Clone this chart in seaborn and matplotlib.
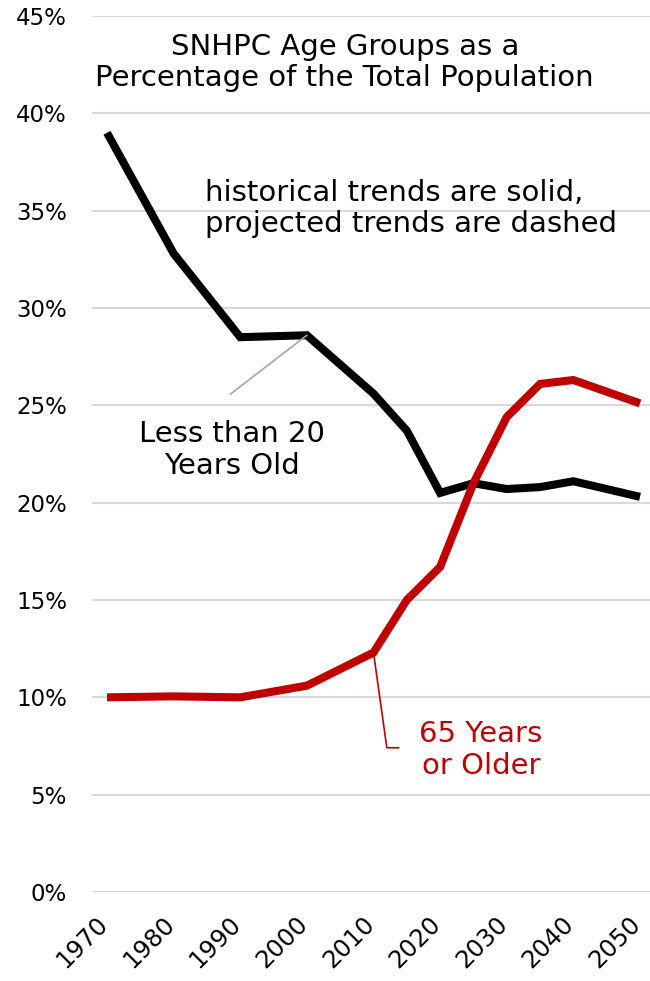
import matplotlib
matplotlib.use("Agg")
import matplotlib.pyplot as plt
import matplotlib.transforms as mtransforms
import seaborn as sns
import pandas as pd
from matplotlib.ticker import FuncFormatter

years = [1970, 1980, 1990, 2000, 2010, 2015, 2020, 2025, 2030, 2035, 2040, 2045, 2050]
under20 = [39.0, 32.8, 28.5, 28.6, 25.6, 23.7, 20.5, 21.0, 20.7, 20.8, 21.1, 20.7, 20.3]
over65 = [10.0, 10.05, 10.0, 10.6, 12.3, 15.0, 16.7, 21.0, 24.4, 26.1, 26.3, 25.7, 25.1]
series_names = ["Less than 20 Years Old", "65 Years or Older"]
series_colors = ["#000000", "#C00000"]
y_ticks = [0, 5, 10, 15, 20, 25, 30, 35, 40, 45]
x_ticks = [1970, 1980, 1990, 2000, 2010, 2020, 2030, 2040, 2050]

df = pd.DataFrame({
    "year": years * 2,
    "pct": under20 + over65,
    "group": [series_names[0]] * len(years) + [series_names[1]] * len(years),
})

sns.set_theme(style="white")
plt.rcParams["font.family"] = ["DejaVu Sans"]
plt.rcParams["text.color"] = "black"

W, H = 650, 981
fig = plt.figure(figsize=(W / 100, H / 100), dpi=100)
ax = fig.add_axes([92 / W, (H - 892) / H, 558 / W, 876 / H])

for y in y_ticks:
    ax.axhline(y, color="#d9d9d9", lw=1.5, zorder=0)

sns.lineplot(data=df, x="year", y="pct", hue="group", palette=series_colors,
             hue_order=series_names, linewidth=5.8, ax=ax, legend=False,
             estimator=None, sort=False)
for ln in ax.lines:
    ln.set_solid_joinstyle("miter")
    ln.set_solid_capstyle("butt")

ax.set_xlim(1967.75, 2051.5)
ax.set_ylim(0, 45)
ax.set_yticks(y_ticks)
ax.yaxis.set_major_formatter(FuncFormatter(lambda v, p: f"{int(v)}%"))
ax.set_xticks(x_ticks)
ax.set_xticklabels([str(x) for x in x_ticks], rotation=45, ha="right",
                   va="center", rotation_mode="anchor")
ax.tick_params(axis="y", labelsize=16.5, length=0, colors="black", pad=18)
ax.tick_params(axis="x", labelsize=17.5, length=0, colors="black", pad=0)
offset = mtransforms.ScaledTranslation(-3 / 100, -28 / 100, fig.dpi_scale_trans)
for lab in ax.get_xticklabels():
    lab.set_transform(lab.get_transform() + offset)
ax.set_xlabel("")
ax.set_ylabel("")
for s in ax.spines.values():
    s.set_visible(False)

fs = 21
ax.text(0.453, 42.6, "SNHPC Age Groups as a\nPercentage of the Total Population",
        transform=ax.get_yaxis_transform(), ha="center", va="center",
        fontsize=fs, linespacing=1.15)
ax.text(1984.7, 35.1, "historical trends are solid,\nprojected trends are dashed",
        ha="left", va="center", fontsize=fs, linespacing=1.15)

# black label with gray leader
ax.plot([1988.5, 2000], [25.57, 28.6], color="#a6a6a6", lw=1.2)
ax.text(1988.8, 22.7, "Less than 20\nYears Old", ha="center", va="center",
        fontsize=fs, linespacing=1.15)

# red label with leader
ax.plot([2010, 2012.0, 2013.8], [12.3, 7.41, 7.41], color="#C00000", lw=1.2)
ax.text(2026.1, 7.3, "65 Years\nor Older", ha="center", va="center",
        fontsize=fs, color="#C00000", linespacing=1.15)

fig.savefig("out.png", dpi=100)
